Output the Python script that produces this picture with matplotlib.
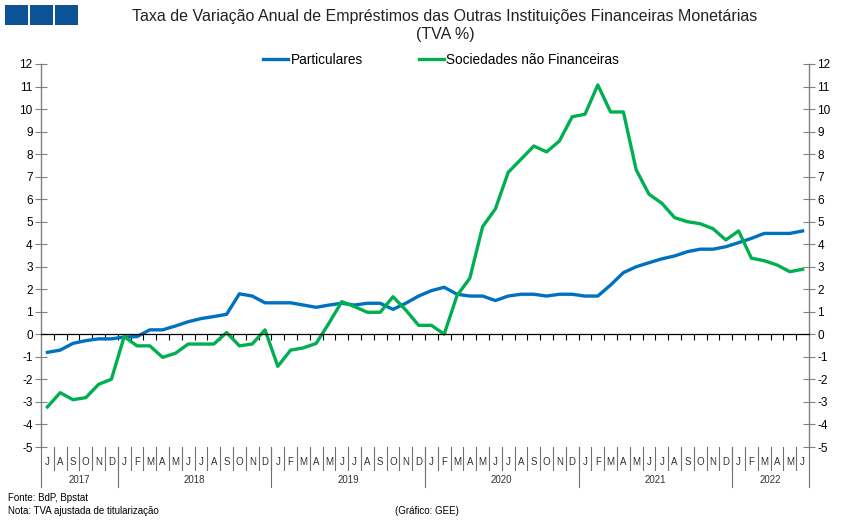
import matplotlib
matplotlib.use('Agg')
import matplotlib.pyplot as plt
import matplotlib.transforms as mtransforms
from matplotlib.patches import Rectangle

plt.rcParams['font.family'] = ['Liberation Sans', 'DejaVu Sans']
plt.rcParams['axes.unicode_minus'] = False

# Monthly data, Jul 2017 - Jun 2022
months = ['J', 'A', 'S', 'O', 'N', 'D'] + ['J', 'F', 'M', 'A', 'M', 'J', 'J', 'A', 'S', 'O', 'N', 'D'] * 4 + ['J', 'F', 'M', 'A', 'M', 'J']
years = ['2017', '2018', '2019', '2020', '2021', '2022']
year_months = [6, 12, 12, 12, 12, 6]

particulares = [-0.8, -0.7, -0.4, -0.28, -0.2, -0.2,
                -0.12, -0.1, 0.2, 0.2, 0.37, 0.56, 0.7, 0.79, 0.89, 1.8, 1.7, 1.4,
                1.4, 1.4, 1.3, 1.2, 1.3, 1.38, 1.3, 1.38, 1.38, 1.11, 1.38, 1.7,
                1.94, 2.09, 1.78, 1.7, 1.7, 1.5, 1.7, 1.78, 1.78, 1.7, 1.78, 1.78,
                1.7, 1.7, 2.19, 2.74, 3.0, 3.18, 3.35, 3.48, 3.67, 3.78, 3.78, 3.89,
                4.07, 4.26, 4.48, 4.48, 4.48, 4.59]
sociedades = [-3.22, -2.59, -2.9, -2.81, -2.22, -1.99,
              -0.1, -0.51, -0.51, -1.02, -0.84, -0.43, -0.43, -0.43, 0.08, -0.51, -0.43, 0.2,
              -1.42, -0.7, -0.6, -0.4, 0.5, 1.45, 1.23, 0.98, 0.98, 1.67, 1.08, 0.4,
              0.4, 0.01, 1.72, 2.49, 4.78, 5.57, 7.19, 7.77, 8.36, 8.1, 8.58, 9.66,
              9.77, 11.07, 9.87, 9.87, 7.3, 6.22, 5.82, 5.18, 5.0, 4.91, 4.69, 4.19,
              4.59, 3.38, 3.27, 3.08, 2.78, 2.89]

W, H = 851, 526
fig = plt.figure(figsize=(W / 100, H / 100), dpi=100)
ax = fig.add_axes([41 / W, (H - 447) / H, 768 / W, 383 / H])

x = list(range(len(months)))
blue = '#0070C0'
green = '#00B050'
ax.plot(x, particulares, color=blue, lw=2.4, label='Particulares', solid_joinstyle='round')
ax.plot(x, sociedades, color=green, lw=2.4, label='Sociedades não Financeiras', solid_joinstyle='round')

ax.set_xlim(-0.5, len(months) - 0.5)
ax.set_ylim(-5, 12)
ax.set_yticks(range(-5, 13))

# zero line with month ticks
ax.spines['bottom'].set_position(('data', 0))
ax.spines['bottom'].set_color('#000000')
ax.spines['bottom'].set_linewidth(0.9)
ax.set_xticks([i + 0.5 for i in range(len(months) - 1)])
ax.tick_params(axis='x', direction='out', length=4, width=0.8, labelbottom=False, color='#000000')
ax.spines['top'].set_visible(False)
for s in ['left', 'right']:
    ax.spines[s].set_color('#808080')
    ax.spines[s].set_linewidth(1.0)

ax.tick_params(axis='y', direction='inout', length=8, width=0.8, color='#808080',
               labelsize=8.5, labelcolor='#000000', right=True, labelright=True, pad=2)

# month / year labels under the axes
trans = mtransforms.blended_transform_factory(ax.transData, ax.transAxes)
for i, m in enumerate(months):
    ax.text(i, -0.039, m, transform=trans, ha='center', va='center', fontsize=7, color='#333333')
    if i > 0:
        ax.plot([i - 0.5, i - 0.5], [0, -0.06], transform=trans, color='#707070', lw=0.8, clip_on=False)
start = 0
for yr, n in zip(years, year_months):
    ax.text(start + n / 2 - 0.5, -0.086, yr, transform=trans, ha='center', va='center', fontsize=7, color='#333333')
    ax.plot([start - 0.5, start - 0.5], [0, -0.105], transform=trans, color='#707070', lw=0.8, clip_on=False)
    start += n
ax.plot([start - 0.5, start - 0.5], [0, -0.105], transform=trans, color='#707070', lw=0.8, clip_on=False)

# title and legend
fig.text(445 / W, 1 - 17 / H, 'Taxa de Variação Anual de Empréstimos das Outras Instituições Financeiras Monetárias',
         ha='center', va='center', fontsize=11.5, color='#222222')
fig.text(445 / W, 1 - 35 / H, '(TVA %)', ha='center', va='center', fontsize=11.5, color='#222222')
fig.legend(loc='center', bbox_to_anchor=(441 / W, 1 - 60 / H), ncol=2, frameon=False,
           fontsize=9.8, handlelength=1.85, handletextpad=0.15, columnspacing=4.1)

# logo squares
for x0 in [5, 30, 55]:
    fig.patches.append(Rectangle((x0 / W, 1 - 25 / H), 23 / W, 20 / H, transform=fig.transFigure,
                                 facecolor='#0B5394', edgecolor='none'))

# footer
fig.text(8 / W, 1 - 498 / H, 'Fonte: BdP, Bpstat', ha='left', va='center', fontsize=7)
fig.text(8 / W, 1 - 511 / H, 'Nota: TVA ajustada de titularização', ha='left', va='center', fontsize=7)
fig.text(395 / W, 1 - 511 / H, '(Gráfico: GEE)', ha='left', va='center', fontsize=7)

fig.savefig('out.png', dpi=100)
